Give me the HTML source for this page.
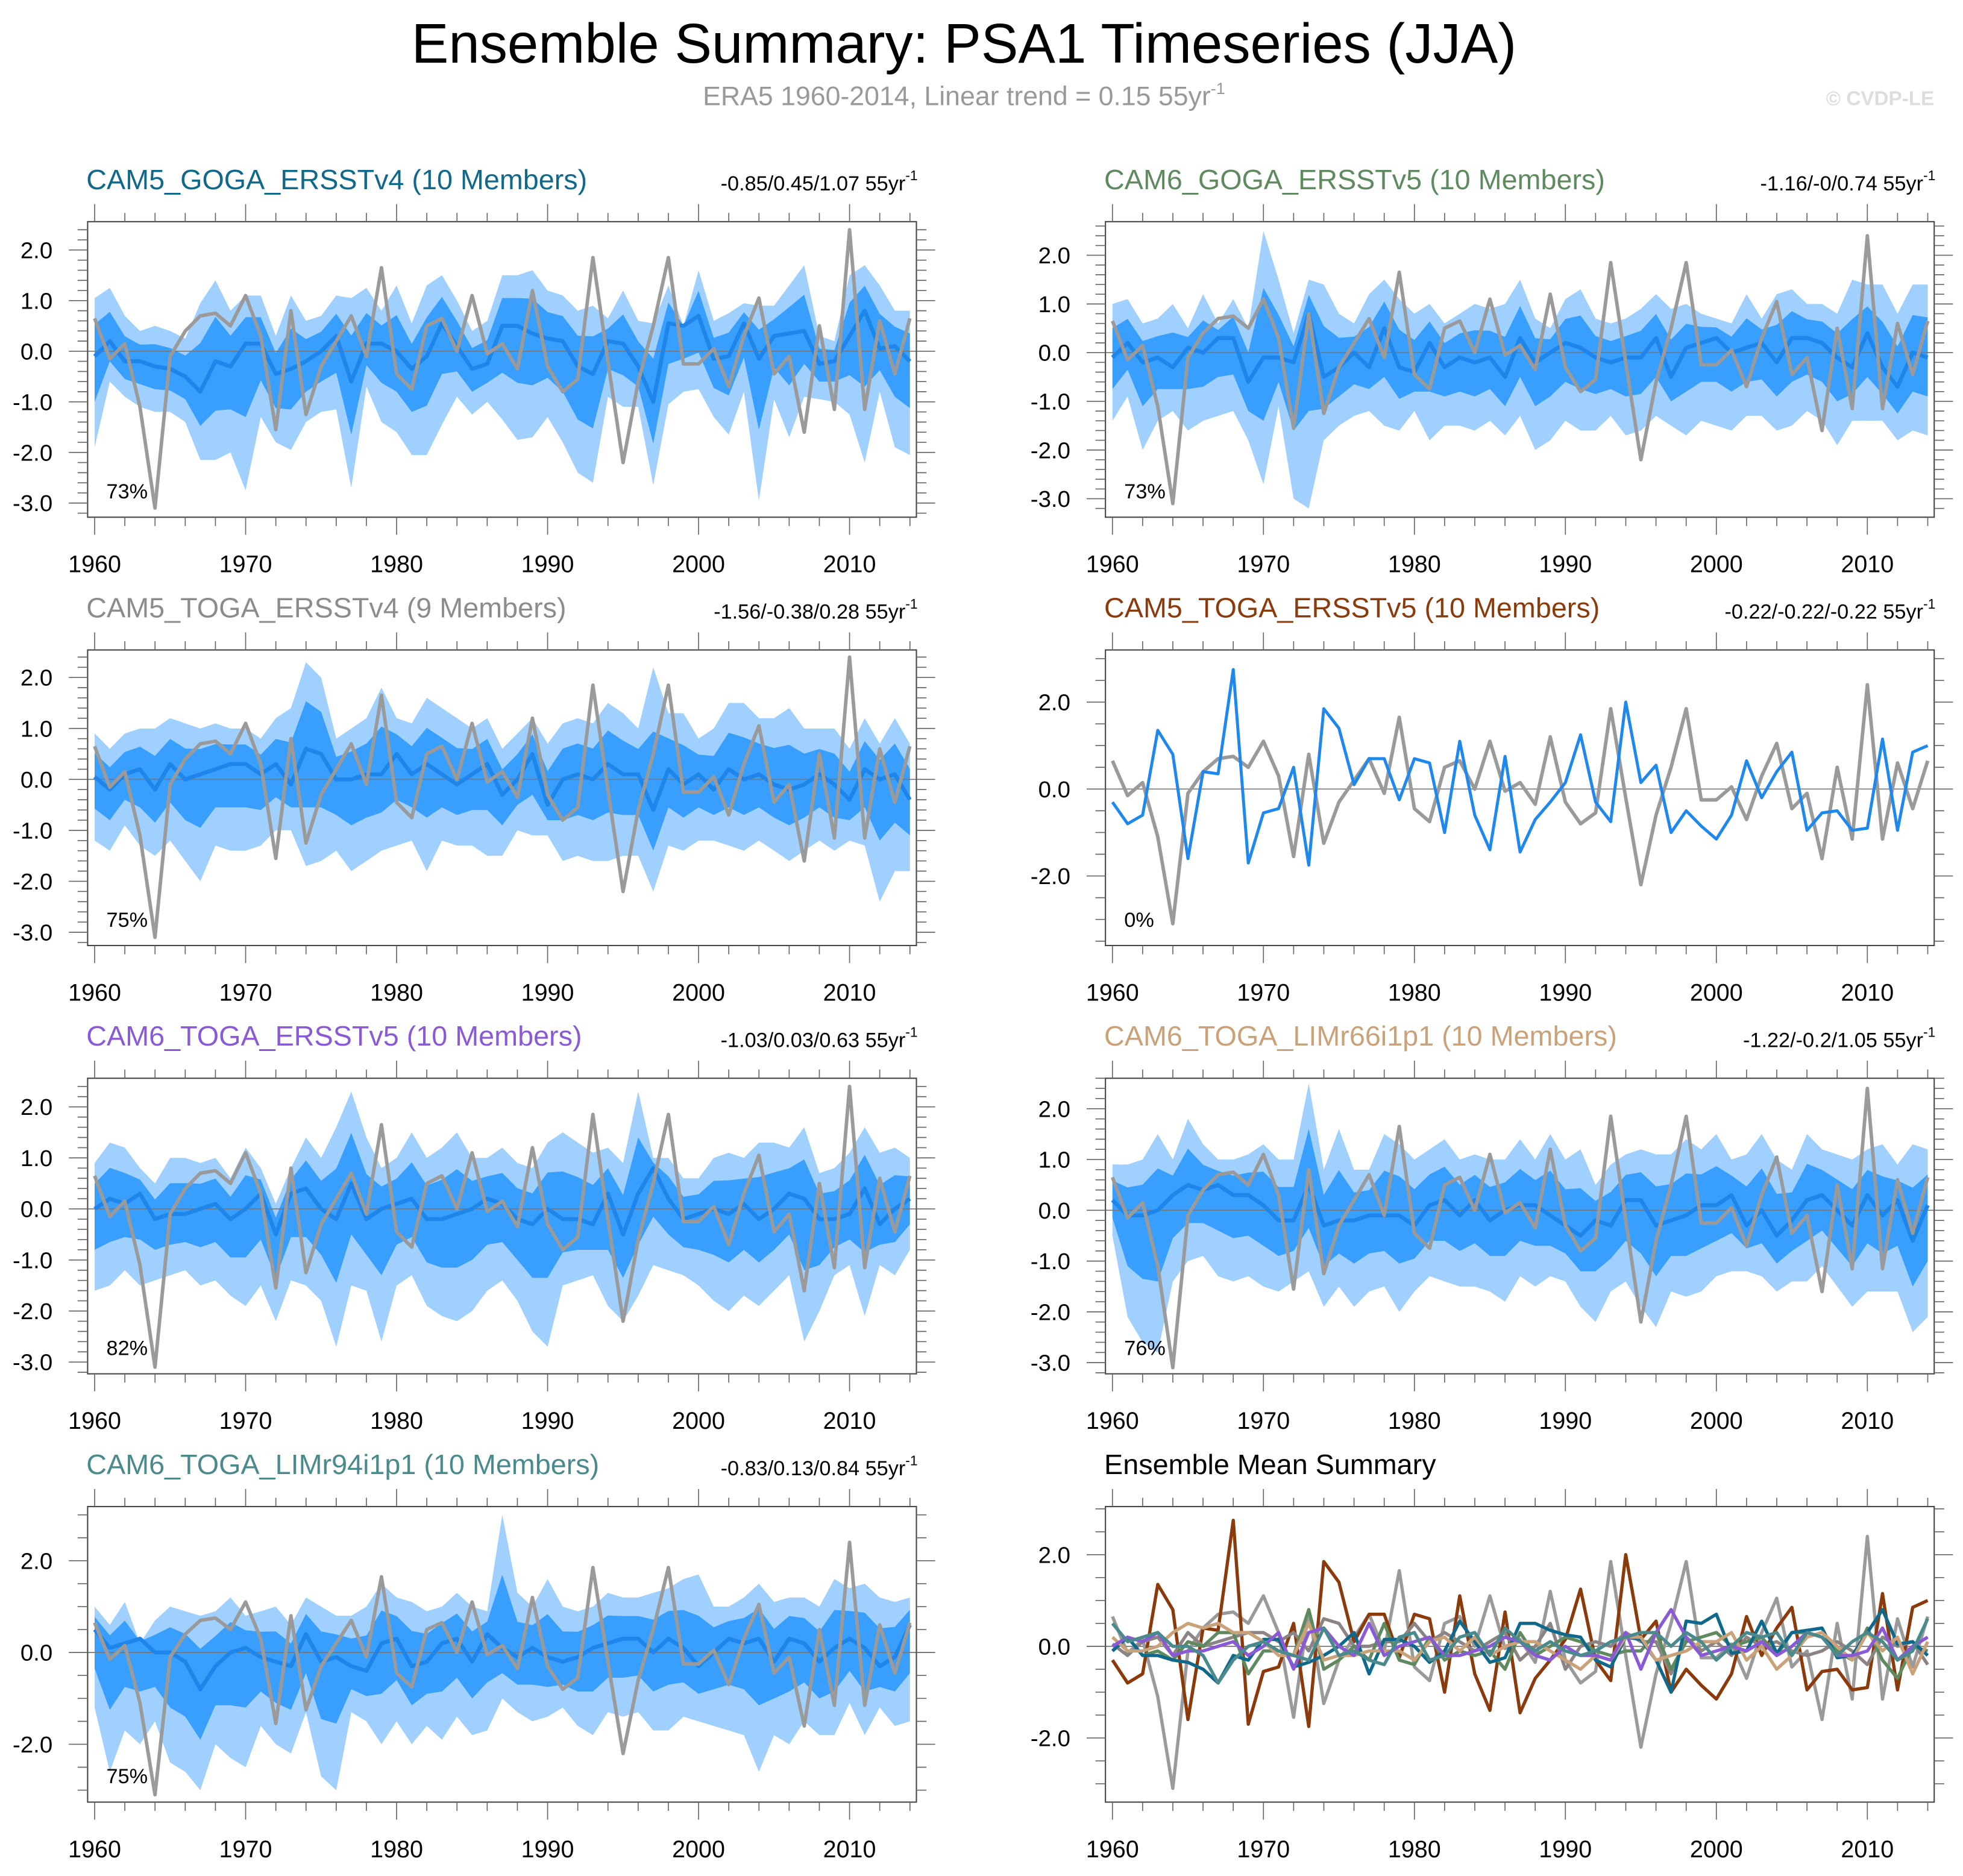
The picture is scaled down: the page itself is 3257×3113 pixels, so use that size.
<!DOCTYPE html>
<html><head><meta charset="utf-8">
<style>
html,body{margin:0;padding:0;background:#fff;}
svg{display:block;}
text{font-family:"Liberation Sans",Arial,sans-serif;}
</style></head>
<body>
<svg id="chart" xmlns="http://www.w3.org/2000/svg" width="3257" height="3113" viewBox="0 0 1568 1498" preserveAspectRatio="none">
<text x="770" y="50" font-size="44.5" text-anchor="middle" fill="#000">Ensemble Summary: PSA1 Timeseries (JJA)</text>
<text x="770" y="84" font-size="21.5" text-anchor="middle" fill="#999">ERA5 1960-2014, Linear trend = 0.15 55yr<tspan dy="-9" font-size="13">-1</tspan></text>
<text x="1545" y="84" font-size="16" font-weight="bold" text-anchor="end" fill="#ddd">© CVDP-LE</text>
<g id="panels"></g>
</svg>
<script>
const years = [];
for (let y = 1960; y <= 2014; y++) years.push(y);

const era5 = [0.65,-0.15,0.15,-1.1,-3.1,-0.1,0.4,0.7,0.75,0.5,1.1,0.3,-1.55,0.8,-1.25,-0.3,0.2,0.7,-0.1,1.65,-0.45,-0.75,0.5,0.65,0.0,1.1,-0.05,0.15,-0.35,1.2,-0.3,-0.8,-0.55,1.85,-0.2,-2.2,-0.6,0.5,1.85,-0.25,-0.25,0.05,-0.7,0.3,1.05,-0.45,-0.1,-1.6,0.5,-1.15,2.4,-1.15,0.6,-0.45,0.65];

const mean1 = [-0.1,0.2,-0.2,-0.2,-0.3,-0.35,-0.5,-0.8,-0.2,-0.3,0.15,0.15,-0.45,-0.35,-0.2,0.0,0.3,-0.6,0.15,0.15,0.0,-0.35,-0.1,0.55,0.1,-0.35,-0.25,0.5,0.5,0.35,0.25,0.2,-0.3,-0.45,0.2,0.15,-0.3,-1.0,0.55,0.5,0.7,-0.15,-0.1,0.55,-0.15,0.3,0.35,0.4,-0.25,-0.2,0.3,0.8,0.05,0.1,-0.2];
const hi1 = [1.05,1.25,0.7,0.4,0.5,0.4,0.25,0.95,1.4,0.8,1.1,1.1,0.3,1.1,0.6,0.7,1.1,1.05,1.25,0.8,1.3,0.55,1.3,1.5,1.0,0.4,0.6,1.5,1.5,1.6,1.2,1.1,0.8,0.9,0.65,1.2,0.6,0.55,1.3,0.5,1.6,0.6,0.75,0.95,0.9,0.9,1.3,1.7,0.3,0.2,1.5,1.7,1.3,0.8,0.8];
const lo1 = [-1.9,-0.6,-0.9,-1.1,-1.2,-1.2,-1.4,-2.15,-2.15,-2.0,-2.75,-1.3,-1.8,-1.95,-1.4,-1.2,-1.15,-2.7,-0.7,-1.4,-1.6,-2.05,-2.05,-1.45,-0.9,-1.25,-1.0,-1.35,-1.75,-1.7,-1.3,-1.8,-2.4,-2.6,-0.9,-1.1,-1.1,-2.65,-1.05,-0.8,-0.75,-1.3,-1.65,-0.8,-2.95,-0.95,-1.7,-0.9,-0.95,-1.0,-1.25,-2.2,-0.8,-1.9,-2.05];

const mean2 = [-0.1,0.2,-0.2,-0.1,-0.3,0.1,0.0,0.3,0.3,-0.6,-0.1,-0.1,-0.2,0.8,-0.5,-0.3,0.0,-0.3,0.5,-0.3,-0.4,0.2,-0.3,-0.1,-0.2,-0.1,-0.5,0.3,-0.2,0.0,0.2,0.1,-0.1,-0.2,-0.1,-0.1,0.3,-0.5,0.1,0.2,0.3,0.0,0.1,0.2,-0.2,0.3,0.3,0.2,-0.1,-0.3,0.4,-0.3,-0.7,0.0,-0.1];
const hi2 = [1.0,1.1,0.6,0.7,1.0,0.5,1.2,0.6,1.1,0.5,2.5,1.5,0.4,1.5,1.4,0.8,0.6,1.2,1.5,1.1,0.8,1.0,0.6,0.8,1.0,0.9,1.0,1.5,0.7,0.5,1.1,1.3,0.7,0.6,0.7,0.9,1.2,0.9,1.0,0.8,0.7,0.6,1.2,0.7,1.2,1.3,1.0,1.0,0.8,1.5,1.4,1.4,0.8,1.4,1.4];
const lo2 = [-1.4,-0.9,-2.0,-1.4,-1.2,-1.6,-1.4,-1.3,-1.2,-1.8,-2.7,-1.1,-3.0,-3.2,-1.8,-1.5,-1.3,-1.2,-1.5,-1.6,-1.2,-1.8,-1.5,-1.5,-1.6,-1.4,-1.7,-1.3,-2.0,-1.8,-1.4,-1.6,-1.6,-1.3,-1.7,-1.6,-1.3,-1.5,-1.7,-1.4,-1.5,-1.6,-1.3,-1.3,-1.6,-1.5,-1.2,-1.4,-1.9,-1.4,-1.4,-1.4,-1.8,-1.6,-1.7];

const mean3 = [0.05,-0.2,0.1,0.2,-0.2,0.3,0.0,0.1,0.2,0.3,0.3,0.1,0.3,-0.1,0.6,0.5,0.0,0.0,0.1,0.1,0.5,0.1,0.3,0.1,-0.1,0.1,0.3,-0.3,0.0,0.5,-0.5,0.0,0.1,0.0,0.3,0.1,0.1,-0.6,0.2,-0.1,0.1,-0.2,0.2,0.0,0.1,-0.1,-0.2,-0.1,0.1,-0.1,-0.4,0.2,0.0,0.1,-0.4];
const hi3 = [0.9,0.6,0.9,1.0,1.0,1.2,1.1,1.0,1.1,1.0,1.0,0.8,1.2,1.4,2.3,2.0,0.8,1.0,1.2,1.8,1.2,1.1,1.6,1.4,1.2,1.0,1.2,0.6,0.9,1.2,0.7,1.1,1.2,1.1,1.5,1.3,1.0,2.2,1.3,1.3,0.8,1.0,1.5,1.5,1.2,1.2,1.4,1.0,1.0,1.0,0.6,1.2,0.7,1.2,0.7];
const lo3 = [-1.2,-1.4,-0.9,-1.3,-1.5,-1.2,-1.6,-2.0,-1.3,-1.4,-1.4,-1.3,-1.0,-1.0,-1.7,-1.6,-1.4,-1.8,-1.6,-1.4,-1.3,-1.2,-1.8,-1.2,-1.3,-1.3,-1.5,-1.5,-1.0,-1.1,-1.1,-1.6,-1.5,-1.6,-1.6,-1.5,-1.5,-2.2,-1.3,-1.4,-1.2,-1.2,-1.3,-1.4,-1.2,-1.4,-1.6,-1.4,-1.2,-1.4,-1.2,-1.3,-2.4,-1.8,-1.8];

const member4 = [-0.3,-0.8,-0.6,1.35,0.8,-1.6,0.4,0.35,2.75,-1.7,-0.55,-0.45,0.5,-1.75,1.85,1.4,0.1,0.7,0.7,-0.25,0.7,0.6,-1.0,1.1,-0.6,-1.4,0.75,-1.45,-0.7,-0.3,0.15,1.25,-0.3,-0.75,2.0,0.15,0.55,-1.0,-0.5,-0.85,-1.15,-0.6,0.65,-0.2,0.4,0.85,-0.95,-0.55,-0.5,-0.95,-0.9,1.15,-0.95,0.85,1.0];

const mean5 = [0.0,0.2,0.1,0.3,-0.2,-0.1,-0.1,0.0,0.1,-0.2,0.0,0.3,-0.5,0.3,0.4,0.0,-0.2,0.5,-0.2,0.0,0.1,0.2,-0.2,-0.2,-0.1,0.0,0.2,0.1,-0.2,-0.3,0.0,-0.2,-0.2,-0.3,0.3,-0.5,0.3,0.8,0.2,-0.2,-0.1,0.0,-0.1,0.1,-0.2,0.0,0.3,0.2,-0.2,-0.2,-0.1,0.4,-0.3,0.0,0.2];
const hi5 = [0.9,1.3,1.2,0.8,0.5,1.0,1.0,0.9,1.0,0.6,1.2,0.8,0.1,0.8,1.4,1.0,1.6,2.3,1.4,0.8,1.0,1.5,1.0,1.2,1.5,1.0,1.0,1.2,0.9,0.8,1.3,1.5,1.3,1.1,1.2,0.9,2.3,1.0,1.0,0.6,0.6,1.0,1.1,1.0,1.3,1.3,1.2,1.6,0.7,0.8,1.1,1.6,1.1,1.2,1.0];
const lo5 = [-1.6,-1.5,-1.2,-1.5,-1.4,-1.3,-1.2,-1.5,-1.4,-1.7,-1.9,-1.5,-2.2,-1.4,-1.5,-1.8,-2.7,-1.5,-1.6,-2.6,-1.5,-1.3,-1.9,-2.1,-2.2,-2.0,-1.6,-1.4,-1.8,-2.4,-2.7,-1.5,-1.4,-1.3,-1.9,-2.2,-1.7,-1.1,-1.2,-1.3,-1.5,-1.8,-2.0,-1.7,-1.9,-1.6,-1.3,-2.6,-2.0,-1.3,-1.1,-2.1,-1.1,-1.3,-0.8];

const mean6 = [0.2,-0.1,-0.1,0.0,0.3,0.5,0.4,0.5,0.3,0.3,0.1,-0.2,-0.2,0.5,-0.3,-0.2,-0.2,-0.1,-0.1,-0.1,-0.3,0.1,0.2,-0.1,0.2,-0.2,0.0,0.1,0.1,-0.1,-0.3,-0.5,-0.2,-0.3,0.2,0.2,-0.3,-0.2,-0.1,0.1,0.1,0.3,-0.3,0.0,-0.5,-0.2,0.2,0.3,0.0,-0.3,0.3,-0.1,0.2,-0.6,0.1];
const hi6 = [0.9,0.9,1.0,1.5,1.0,1.8,1.3,1.0,1.0,1.1,1.3,1.0,1.0,2.5,0.8,1.6,0.8,0.8,1.5,1.3,1.0,1.2,1.4,1.0,1.1,1.0,1.0,1.4,1.0,1.5,1.0,1.2,0.5,0.9,1.1,1.2,1.1,1.1,1.4,1.2,1.5,1.0,1.1,1.5,1.0,0.8,1.5,1.2,1.1,1.0,1.2,1.3,0.9,1.3,1.2];
const lo6 = [-0.5,-2.1,-2.6,-2.8,-1.4,-1.0,-0.9,-1.3,-1.4,-1.3,-1.5,-1.6,-1.4,-1.2,-1.9,-1.5,-1.9,-1.6,-1.5,-2.0,-1.6,-1.3,-1.4,-1.5,-1.5,-1.6,-1.8,-1.3,-1.5,-1.3,-1.4,-1.9,-2.2,-1.6,-1.4,-1.9,-2.3,-1.6,-1.7,-1.6,-1.3,-1.2,-1.2,-1.3,-1.6,-1.4,-1.4,-1.1,-1.5,-1.9,-1.6,-1.6,-1.6,-2.4,-2.1];

const mean7 = [0.5,0.1,0.2,0.3,0.0,0.0,-0.2,-0.8,-0.3,0.0,0.1,-0.1,-0.2,-0.3,0.4,-0.2,-0.1,-0.3,-0.4,0.2,0.3,-0.3,-0.2,0.2,0.3,-0.2,0.4,0.1,-0.1,0.1,-0.1,-0.2,-0.1,0.1,0.2,0.3,0.3,0.0,0.3,0.1,-0.3,0.0,0.3,0.2,0.3,-0.2,0.3,0.2,-0.2,0.1,0.3,0.1,-0.3,-0.1,0.6];
const hi7 = [1.0,0.6,1.1,0.2,0.7,1.0,0.9,0.8,0.9,1.2,0.8,0.9,1.0,0.6,1.2,1.0,0.8,0.8,1.0,1.5,1.2,1.1,0.9,1.0,1.3,1.0,0.9,3.0,1.3,1.0,1.6,1.0,0.9,1.0,1.3,1.2,1.2,1.3,1.4,1.6,1.7,1.0,1.0,1.2,1.5,1.1,1.2,1.2,1.0,1.6,1.4,1.5,1.2,1.1,1.2];
const lo7 = [-1.2,-2.6,-1.7,-2.0,-1.5,-2.4,-2.6,-3.0,-2.0,-2.3,-2.5,-1.6,-2.0,-2.2,-1.3,-2.7,-3.0,-1.3,-1.5,-2.0,-1.5,-2.0,-1.6,-1.9,-1.4,-1.8,-1.7,-1.0,-1.3,-1.5,-1.4,-1.2,-1.6,-1.8,-1.3,-1.4,-1.3,-1.7,-1.7,-1.4,-1.5,-1.6,-1.7,-1.8,-2.6,-1.8,-2.0,-1.5,-1.8,-1.8,-1.1,-1.8,-1.2,-1.6,-1.5];

const yTicks1 = [-3,-2,-1,0,1,2];
const yTicks2 = [-2,0,2];

const panels = [
  {name:'cam5-goga-ersstv4', title:'CAM5_GOGA_ERSSTv4 (10 Members)', color:'#10688a', stats:'-0.85/0.45/1.07 55yr', pct:'73%', col:0,row:0, ymin:-3.28, ymax:2.56, ticks:yTicks1, minor:0.2, mean:mean1, hi:hi1, lo:lo1},
  {name:'cam6-goga-ersstv5', title:'CAM6_GOGA_ERSSTv5 (10 Members)', color:'#5f8a5f', stats:'-1.16/-0/0.74 55yr', pct:'73%', col:1,row:0, ymin:-3.38, ymax:2.69, ticks:yTicks1, minor:0.2, mean:mean2, hi:hi2, lo:lo2},
  {name:'cam5-toga-ersstv4', title:'CAM5_TOGA_ERSSTv4 (9 Members)', color:'#8c8c8c', stats:'-1.56/-0.38/0.28 55yr', pct:'75%', col:0,row:1, ymin:-3.26, ymax:2.54, ticks:yTicks1, minor:0.2, mean:mean3, hi:hi3, lo:lo3},
  {name:'cam5-toga-ersstv5', title:'CAM5_TOGA_ERSSTv5 (10 Members)', color:'#8b3a0c', stats:'-0.22/-0.22/-0.22 55yr', pct:'0%', col:1,row:1, ymin:-3.6, ymax:3.2, ticks:yTicks2, minor:0.5, member:member4},
  {name:'cam6-toga-ersstv5', title:'CAM6_TOGA_ERSSTv5 (10 Members)', color:'#8a5ad6', stats:'-1.03/0.03/0.63 55yr', pct:'82%', col:0,row:2, ymin:-3.23, ymax:2.56, ticks:yTicks1, minor:0.2, mean:mean5, hi:hi5, lo:lo5},
  {name:'cam6-toga-limr66i1p1', title:'CAM6_TOGA_LIMr66i1p1 (10 Members)', color:'#c9a27a', stats:'-1.22/-0.2/1.05 55yr', pct:'76%', col:1,row:2, ymin:-3.22, ymax:2.6, ticks:yTicks1, minor:0.2, mean:mean6, hi:hi6, lo:lo6},
  {name:'cam6-toga-limr94i1p1', title:'CAM6_TOGA_LIMr94i1p1 (10 Members)', color:'#4a8a8c', stats:'-0.83/0.13/0.84 55yr', pct:'75%', col:0,row:3, ymin:-3.26, ymax:3.18, ticks:yTicks2, minor:0.5, mean:mean7, hi:hi7, lo:lo7},
  {name:'ensemble-mean-summary', title:'Ensemble Mean Summary', color:'#000', stats:'', pct:'', col:1,row:3, ymin:-3.4, ymax:3.05, ticks:yTicks2, minor:0.5, summary:true}
];

const NS = 'http://www.w3.org/2000/svg';
const root = document.getElementById('panels');
function mk(tag, attrs, parent){
  const e = document.createElementNS(NS, tag);
  for (const k in attrs) e.setAttribute(k, attrs[k]);
  (parent||root).appendChild(e);
  return e;
}
const BOXW = 662, BOXH = 236;

panels.forEach(p => {
  const bx = 70 + p.col*813, by = 177 + p.row*342;
  const g = mk('g', {});
  
  
  const xS = yr => bx + 5.6 + (yr-1960)*12.06;
  const yS = v => by + (p.ymax - v)/(p.ymax - p.ymin)*BOXH;
  const pts = arr => arr.map((v,i)=>xS(years[i]).toFixed(1)+','+yS(v).toFixed(1)).join(' ');
  const band = (up, dn) => up.map((v,i)=>xS(years[i]).toFixed(1)+','+yS(v).toFixed(1)).concat(dn.map((v,i)=>xS(years[i]).toFixed(1)+','+yS(v).toFixed(1)).reverse()).join(' ');

  const t = mk('text', {x:bx-1, y:by-26, 'font-size':22.5, fill:p.color}, g);
  t.textContent = p.title;
  
  
  if (p.stats){
    const s = mk('text', {x:bx+BOXW+1, y:by-25, 'font-size':16.5, 'text-anchor':'end', fill:'#000'}, g);
    
    
    s.textContent = p.stats;
    const sp = mk('tspan', {dy:-8, 'font-size':11}, s);
    sp.textContent = '-1';
  }
  if (p.mean){
    const dHi = p.mean.map((m,i)=>m+0.55*(p.hi[i]-m));
    const dLo = p.mean.map((m,i)=>m+0.5*(p.lo[i]-m));
    const lb = mk('polygon', {points:band(p.hi,p.lo), fill:'#9fd0ff'}, g);
    
    
    const db = mk('polygon', {points:band(dHi,dLo), fill:'#399fff'}, g);
    
    
  }
  mk('line', {x1:bx, x2:bx+BOXW, y1:yS(0), y2:yS(0), stroke:'#777', 'stroke-width':0.8}, g);
  if (p.mean){
    const ml = mk('polyline', {points:pts(p.mean), fill:'none', stroke:'#1e86ea', 'stroke-width':3.2, 'stroke-linejoin':'round'}, g);
    
    
  }
  if (p.summary){
    const series = [[era5,'#9a9a9a'],[member4,'#8b3a0c'],[mean3,'#8c8484'],[mean2,'#5f8a5f'],[mean1,'#10688a'],[mean6,'#c9a27a'],[mean5,'#8a5ad6'],[mean7,'#4a8a8c']];
    series.forEach(s=>{
      const l = mk('polyline', {points:pts(s[0]), fill:'none', stroke:s[1], 'stroke-width':2.6, 'stroke-linejoin':'round'}, g);
      
      
    });
  } else {
    const el = mk('polyline', {points:pts(era5), fill:'none', stroke:'#9a9a9a', 'stroke-width':2.8, 'stroke-linejoin':'round'}, g);
    
    
  }
  if (p.member){
    const ml = mk('polyline', {points:pts(p.member), fill:'none', stroke:'#1e88ee', 'stroke-width':2.4, 'stroke-linejoin':'round'}, g);
    
    
  }
  const box = mk('rect', {x:bx, y:by, width:BOXW, height:BOXH, fill:'none', stroke:'#444', 'stroke-width':1}, g);
  
  
  const st = p.minor;
  for (let v = Math.ceil(p.ymin/st)*st; v <= p.ymax+1e-9; v += st){
    const yy = yS(v);
    const isMaj = p.ticks.some(t=>Math.abs(t-v)<1e-6);
    const L = isMaj ? 15 : 8;
    mk('line', {x1:bx-L, x2:bx, y1:yy, y2:yy, stroke:'#666', 'stroke-width':0.8}, g);
    mk('line', {x1:bx+BOXW, x2:bx+BOXW+L, y1:yy, y2:yy, stroke:'#666', 'stroke-width':0.8}, g);
  }
  p.ticks.forEach(v=>{
    const lt = mk('text', {x:bx-28, y:yS(v)+6.5, 'font-size':18.5, 'text-anchor':'end', fill:'#000'}, g);
    
    
    lt.textContent = v.toFixed(1);
  });
  for (let yr = 1960; yr <= 2014; yr += 2){
    const xx = xS(yr);
    const maj = yr % 10 === 0;
    const L = maj ? 14 : 7;
    mk('line', {x1:xx, x2:xx, y1:by-L, y2:by, stroke:'#666', 'stroke-width':0.8}, g);
    mk('line', {x1:xx, x2:xx, y1:by+BOXH, y2:by+BOXH+L, stroke:'#666', 'stroke-width':0.8}, g);
    if (maj){
      const xt = mk('text', {x:xx, y:by+BOXH+44, 'font-size':19, 'text-anchor':'middle', fill:'#000'}, g);
      
      
      xt.textContent = yr;
    }
  }
  if (p.pct){
    const pt = mk('text', {x:bx+15, y:by+BOXH-15, 'font-size':16.5, fill:'#000'}, g);
    
    
    pt.textContent = p.pct;
  }
});
</script>
</body></html>
